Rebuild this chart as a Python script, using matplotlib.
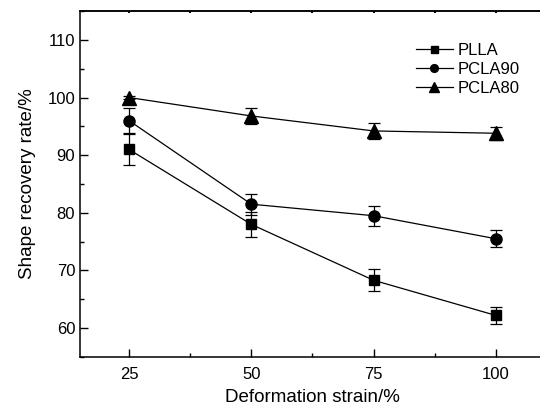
import numpy as np
import matplotlib
matplotlib.use("Agg")
import matplotlib.pyplot as plt
from matplotlib.ticker import MultipleLocator

plt.rcParams['font.family'] = ['Liberation Sans', 'DejaVu Sans']

strain = [25, 50, 75, 100]
plla = [91.0, 78.0, 68.3, 62.2]
plla_err = [2.7, 2.2, 1.9, 1.5]
pcla90 = [96.0, 81.5, 79.5, 75.5]
pcla90_err = [2.1, 1.8, 1.7, 1.5]
pcla80 = [100.0, 96.8, 94.2, 93.8]
pcla80_err = [0.3, 1.4, 1.4, 1.1]

fig = plt.figure(figsize=(5.4, 4.12), dpi=100)
# right spine sits just outside the picture in the reference
ax = fig.add_axes([80/540, 1 - 357/412, 465/540, 346/412])

series = [(plla, plla_err, 's', 7.2, 'PLLA'),
          (pcla90, pcla90_err, 'o', 8, 'PCLA90'),
          (pcla80, pcla80_err, '^', 9.5, 'PCLA80')]
for vals, err, mk, ms, lab in series:
    ax.errorbar(strain, vals, yerr=err, color='k', marker=mk, markersize=ms,
                linewidth=0.9, elinewidth=0.9, capsize=4, capthick=0.9, label=lab)

ax.set_xlim(15, 110)
ax.set_ylim(55, 115)
ax.set_xticks(strain)
ax.xaxis.set_minor_locator(MultipleLocator(12.5))
ax.set_yticks([60, 70, 80, 90, 100, 110])
ax.yaxis.set_minor_locator(MultipleLocator(5))
ax.tick_params(which='major', direction='in', length=6, width=1, labelsize=12)
ax.tick_params(which='minor', direction='in', length=3, width=1)
ax.tick_params(axis='x', which='major', pad=7)
for side in ['left', 'bottom', 'top']:
    ax.spines[side].set_linewidth(1.1)
ax.spines['right'].set_visible(False)

# tiny ticks along the top spine
top = ax.secondary_xaxis('top')
top.set_xticks(strain)
top.xaxis.set_minor_locator(MultipleLocator(12.5))
top.tick_params(which='both', direction='in', length=1.5, width=1.5, labeltop=False)
top.spines['top'].set_linewidth(1.1)

ax.set_xlabel('Deformation strain/%', fontsize=13.5, labelpad=5)
ax.set_ylabel('Shape recovery rate/%', fontsize=13.5, labelpad=8)

handles, labels = ax.get_legend_handles_labels()
handles = [h[0] for h in handles]
leg = ax.legend(handles, labels, loc='upper left', bbox_to_anchor=(0.69, 0.95),
                frameon=False, fontsize=12, handlelength=2.2, handletextpad=0.3,
                labelspacing=0.22, markerscale=0.7)

fig.savefig('out.png', dpi=100)
